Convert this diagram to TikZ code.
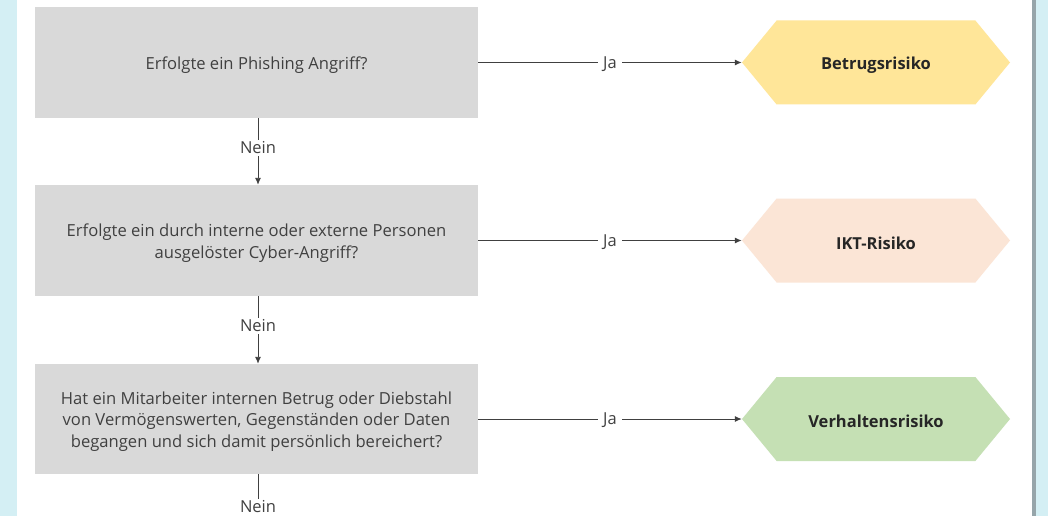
\documentclass[tikz,border=0pt]{standalone}
\usepackage{fontspec}
\setmainfont{Open Sans}
\usetikzlibrary{arrows.meta,shapes.symbols}
\definecolor{bgcyan}{RGB}{212,239,244}
\definecolor{boxgray}{RGB}{217,217,217}
\definecolor{txtgray}{RGB}{64,64,64}
\definecolor{hexyellow}{RGB}{255,230,153}
\definecolor{hexpeach}{RGB}{251,229,214}
\definecolor{hexgreen}{RGB}{197,224,180}
\definecolor{shadowgray}{RGB}{150,165,170}
\tikzset{
  qbox/.style={fill=boxgray, minimum width=443pt, inner sep=0pt},
  qtext/.style={align=center, inner sep=0pt, yshift=-2.5pt,
    text=txtgray, font=\fontsize{16.6}{21.5}\selectfont},
  riskhex/.style={signal, signal to=east and west, signal from=nowhere,
    signal pointer angle=101, minimum width=268pt, minimum height=84pt,
    inner sep=0pt},
  risktext/.style={inner sep=0pt, yshift=-2.5pt,
    font=\bfseries\fontsize{16.5}{18}\selectfont, text=black!85},
  lbl/.style={text=txtgray, font=\fontsize{16.5}{18}\selectfont, inner sep=2pt},
  conn/.style={draw=txtgray, line width=0.9pt},
  tip/.style={-{Latex[length=7pt,width=6pt]}}
}
\begin{document}
\begin{tikzpicture}[x=1pt,y=-1pt]
\useasboundingbox (0,0) rectangle (1048,516);
\fill[bgcyan] (0,0) rectangle (1048,516);
\fill[white] (17,0) rectangle (1032,516);
\fill[shadowgray] (1032,0) rectangle (1036,516);

\node[qbox, minimum height=111pt] (q1) at (256.5,62.5) {};
\node[qbox, minimum height=111pt] (q2) at (256.5,240.5) {};
\node[qbox, minimum height=110pt] (q3) at (256.5,419) {};
\node[qtext] (q1t) at (q1.center) {Erfolgte ein Phishing Angriff?};
\node[qtext] (q2t) at (q2.center) {Erfolgte ein durch interne oder externe Personen\\ausgelöster Cyber-Angriff?};
\node[qtext] (q3t) at (q3.center) {Hat ein Mitarbeiter internen Betrug oder Diebstahl\\von Vermögenswerten, Gegenständen oder Daten\\begangen und sich damit persönlich bereichert?};

\node[riskhex, fill=hexyellow] (r1) at (876,62.5) {};
\node[riskhex, fill=hexpeach] (r2) at (876,240.5) {};
\node[riskhex, fill=hexgreen] (r3) at (876,419) {};
\node[risktext] (r1t) at (r1.center) {Betrugsrisiko};
\node[risktext] (r2t) at (r2.center) {IKT-Risiko};
\node[risktext] (r3t) at (r3.center) {Verhaltensrisiko};

\foreach \i in {1,2,3}{
  \draw[conn, tip] (q\i.east) -- node[lbl, fill=white, inner sep=5pt, yshift=-1.5pt] {Ja} (r\i.west);
}

\node[lbl] (n1) at (258,148) {Nein};
\node[lbl] (n2) at (258,326) {Nein};
\node[lbl] (n3) at (258,507) {Nein};

\draw[conn] (q1.south -| n1) -- (n1.north);
\draw[conn, tip] (n1.south) -- (q2.north -| n1);
\draw[conn] (q2.south -| n2) -- (n2.north);
\draw[conn, tip] (n2.south) -- (q3.north -| n2);
\draw[conn] (q3.south -| n3) -- (n3.north);
\end{tikzpicture}
\end{document}
